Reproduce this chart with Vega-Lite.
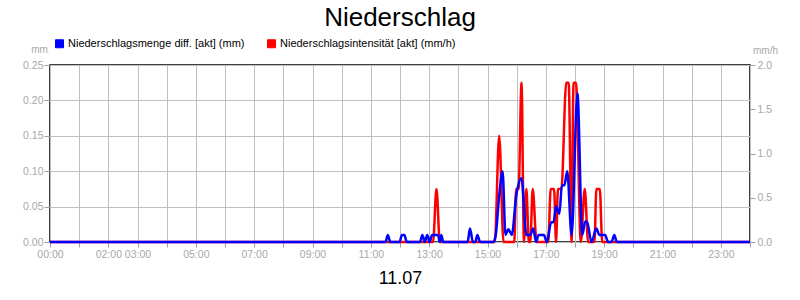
{
  "$schema": "https://vega.github.io/schema/vega-lite/v6.json",
  "width": 700,
  "height": 177,
  "autosize": {"type": "none"},
  "padding": {"left": 50, "top": 65, "right": 50, "bottom": 58},
  "background": "white",
  "config": {
    "font": "Liberation Sans",
    "view": {"stroke": "black", "strokeWidth": 1.5}
  },
  "title": {"text": "Niederschlag", "fontSize": 26, "font": "Liberation Sans", "fontWeight": "normal", "color": "black", "anchor": "middle", "offset": 7},
  "datasets": {
    "blue": [
      {"min": 0, "v": 0}, {"min": 690, "v": 0}, {"min": 695, "v": 0.01}, {"min": 700, "v": 0},
      {"min": 719, "v": 0}, {"min": 724, "v": 0.01}, {"min": 729, "v": 0.01}, {"min": 734, "v": 0},
      {"min": 761, "v": 0}, {"min": 766, "v": 0.01}, {"min": 771, "v": 0}, {"min": 776, "v": 0.01}, {"min": 781, "v": 0},
      {"min": 786, "v": 0.01}, {"min": 792, "v": 0.01}, {"min": 798, "v": 0.01}, {"min": 802, "v": 0}, {"min": 805, "v": 0.01}, {"min": 809, "v": 0},
      {"min": 859, "v": 0}, {"min": 864, "v": 0.019}, {"min": 870, "v": 0}, {"min": 875, "v": 0}, {"min": 879, "v": 0.01}, {"min": 885, "v": 0},
      {"min": 912, "v": 0}, {"min": 917, "v": 0.01}, {"min": 924, "v": 0.065}, {"min": 931, "v": 0.1}, {"min": 937, "v": 0.01},
      {"min": 943, "v": 0.018}, {"min": 950, "v": 0.01}, {"min": 959, "v": 0.065}, {"min": 970, "v": 0.09}, {"min": 980, "v": 0.01},
      {"min": 988, "v": 0.01}, {"min": 994, "v": 0.019}, {"min": 1000, "v": 0}, {"min": 1005, "v": 0.01}, {"min": 1016, "v": 0.01},
      {"min": 1022, "v": 0}, {"min": 1031, "v": 0.028}, {"min": 1036, "v": 0.028}, {"min": 1041, "v": 0.05}, {"min": 1048, "v": 0.04},
      {"min": 1053, "v": 0.08}, {"min": 1058, "v": 0.08}, {"min": 1064, "v": 0.1}, {"min": 1073, "v": 0.01}, {"min": 1085, "v": 0.21},
      {"min": 1095, "v": 0.01}, {"min": 1101, "v": 0.029}, {"min": 1105, "v": 0.028}, {"min": 1114, "v": 0}, {"min": 1124, "v": 0.019},
      {"min": 1130, "v": 0.01}, {"min": 1142, "v": 0.01}, {"min": 1148, "v": 0}, {"min": 1155, "v": 0}, {"min": 1161, "v": 0.01},
      {"min": 1166, "v": 0}, {"min": 1440, "v": 0}
    ],
    "red": [
      {"min": 0, "v": 0}, {"min": 788, "v": 0}, {"min": 795, "v": 0.6}, {"min": 802, "v": 0},
      {"min": 915, "v": 0}, {"min": 924, "v": 1.2}, {"min": 933, "v": 0},
      {"min": 955, "v": 0}, {"min": 959, "v": 0.6}, {"min": 964, "v": 0.6}, {"min": 970, "v": 1.8}, {"min": 975, "v": 0},
      {"min": 980, "v": 0.6}, {"min": 985, "v": 0}, {"min": 988, "v": 0}, {"min": 993, "v": 0.6}, {"min": 1001, "v": 0},
      {"min": 1025, "v": 0}, {"min": 1030, "v": 0.6}, {"min": 1037, "v": 0.6}, {"min": 1041, "v": 0}, {"min": 1045, "v": 0.6},
      {"min": 1052, "v": 0.6}, {"min": 1062, "v": 1.8}, {"min": 1067, "v": 1.8}, {"min": 1073, "v": 0}, {"min": 1077, "v": 1.8},
      {"min": 1082, "v": 1.8}, {"min": 1092, "v": 0}, {"min": 1100, "v": 0.6}, {"min": 1107, "v": 0},
      {"min": 1120, "v": 0}, {"min": 1124, "v": 0.6}, {"min": 1131, "v": 0.6}, {"min": 1136, "v": 0}, {"min": 1440, "v": 0}
    ]
  },
  "encoding": {
    "x": {
      "field": "min",
      "type": "quantitative",
      "scale": {"domain": [0, 1440], "nice": false, "zero": false},
      "axis": {
        "values": [0, 60, 120, 180, 240, 300, 360, 420, 480, 540, 600, 660, 720, 780, 840, 900, 960, 1020, 1080, 1140, 1200, 1260, 1320, 1380, 1440],
        "labelExpr": "indexof([0,120,180,300,420,540,660,780,900,1020,1140,1260,1380], datum.value) >= 0 ? (datum.value < 600 ? '0' : '') + floor(datum.value / 60) + ':00' : ''",
        "labelOverlap": false,
        "labelFlush": false,
        "grid": true,
        "gridColor": "#c0c0c0",
        "domain": false,
        "tickColor": "#a0a0a0",
        "tickSize": 5,
        "labelColor": "#a8a8a8",
        "labelFontSize": 10.5,
        "labelPadding": 2,
        "title": "11.07",
        "titleFontSize": 18,
        "titleColor": "black",
        "titleFontWeight": "normal",
        "titlePadding": 10
      }
    }
  },
  "layer": [
    {
      "data": {"name": "red"},
      "mark": {"type": "line", "interpolate": "monotone", "strokeWidth": 2.5},
      "encoding": {
        "y": {
          "field": "v",
          "type": "quantitative",
          "scale": {"domain": [0, 2], "nice": false},
          "axis": {
            "orient": "right",
            "values": [0, 0.5, 1, 1.5, 2],
            "format": ".1f",
            "grid": false,
            "domain": false,
            "tickColor": "#a0a0a0",
            "tickSize": 5,
            "labelPadding": 2,
            "labelColor": "#a8a8a8",
            "labelFontSize": 10.5,
            "title": "mm/h",
            "titleAngle": 0,
            "titleX": 15,
            "titleY": -15,
            "titleAlign": "center",
            "titleBaseline": "middle",
            "titleColor": "#a8a8a8",
            "titleFontSize": 10,
            "titleFontWeight": "normal"
          }
        },
        "color": {
          "datum": "Niederschlagsintensität [akt] (mm/h)",
          "scale": {"domain": ["Niederschlagsmenge diff. [akt] (mm)", "Niederschlagsintensität [akt] (mm/h)"], "range": ["#0000ff", "#ff0000"]},
          "legend": {
            "orient": "none", "legendX": 4, "legendY": -27, "direction": "horizontal", "title": null,
            "symbolType": "square", "symbolSize": 64, "labelFontSize": 11, "labelColor": "black", "labelFont": "Liberation Sans",
            "labelLimit": 400, "columnPadding": 20, "labelOffset": 3,
            "encode": {"symbols": {"update": {"fill": {"scale": "color", "field": "value"}, "stroke": {"value": "#000000"}, "strokeWidth": {"value": 1}}}}
          }
        }
      }
    },
    {
      "data": {"name": "blue"},
      "mark": {"type": "line", "interpolate": "monotone", "strokeWidth": 2.5},
      "encoding": {
        "y": {
          "field": "v",
          "type": "quantitative",
          "scale": {"domain": [0, 0.25], "nice": false},
          "axis": {
            "orient": "left",
            "values": [0, 0.05, 0.1, 0.15, 0.2, 0.25],
            "format": ".2f",
            "grid": true,
            "gridColor": "#c0c0c0",
            "domain": false,
            "tickColor": "#a0a0a0",
            "tickSize": 6,
            "labelPadding": 1,
            "labelColor": "#a8a8a8",
            "labelFontSize": 10.5,
            "title": "mm",
            "titleAngle": 0,
            "titleX": -11,
            "titleY": -16,
            "titleAlign": "center",
            "titleBaseline": "middle",
            "titleColor": "#a8a8a8",
            "titleFontSize": 10,
            "titleFontWeight": "normal"
          }
        },
        "color": {
          "datum": "Niederschlagsmenge diff. [akt] (mm)",
          "scale": {"domain": ["Niederschlagsmenge diff. [akt] (mm)", "Niederschlagsintensität [akt] (mm/h)"], "range": ["#0000ff", "#ff0000"]}
        }
      }
    }
  ],
  "resolve": {"scale": {"y": "independent"}}
}
